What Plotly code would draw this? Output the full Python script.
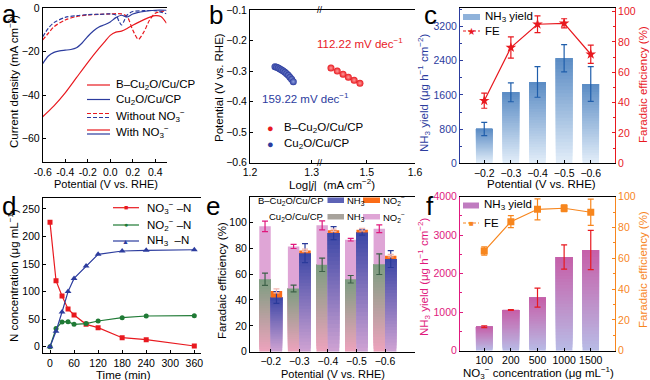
import plotly.graph_objects as go

W, H = 650, 380
FONT = "Arial, Liberation Sans, sans-serif"

def fx(p):
    return p / W

def fy(p):
    return 1 - p / H

RED = "#e8191f"
NAVY = "#2c3c9e"
GREEN = "#1f7a35"
MAGENTA = "#e0197d"
ORANGE = "#f7861e"
CBLUE = "#1f5eab"

# ---------------- data ----------------
# (a) LSV curves
a_pot_B_with = [-0.6, -0.5, -0.4, -0.3, -0.2, -0.1, -0.05, 0.0, 0.05, 0.1, 0.15, 0.2, 0.3, 0.4, 0.45, 0.5]
a_cd_B_with = [-50.0, -45.0, -39.0, -32.0, -25.0, -18.5, -15.5, -12.5, -11.0, -10.5, -9.3, -7.8, -5.2, -3.4, -3.8, -6.9]
a_pot_Cu_with = [-0.6, -0.55, -0.5, -0.45, -0.4, -0.35, -0.3, -0.25, -0.2, -0.15, -0.1, -0.05, 0.0, 0.05, 0.1, 0.15, 0.2, 0.3, 0.4, 0.5]
a_cd_Cu_with = [-25.5, -22.0, -20.3, -19.6, -19.3, -19.0, -18.2, -16.0, -13.0, -10.5, -8.6, -7.6, -6.3, -4.3, -3.2, -4.0, -2.6, -1.4, -0.9, -0.9]
a_pot_B_wo = [-0.6, -0.55, -0.5, -0.4, -0.3, -0.2, -0.1, 0.0, 0.1, 0.15, 0.2, 0.25, 0.3, 0.35, 0.4, 0.45, 0.5]
a_cd_B_wo = [-14.6, -11.5, -8.5, -5.4, -3.8, -3.1, -2.8, -2.6, -2.6, -3.8, -10.0, -14.3, -10.8, -5.4, -2.3, -1.5, -1.2]
a_pot_Cu_wo = [-0.6, -0.55, -0.5, -0.4, -0.3, -0.2, -0.1, 0.0, 0.05, 0.08, 0.1, 0.12, 0.15, 0.2, 0.3, 0.4, 0.5]
a_cd_Cu_wo = [-13.1, -9.2, -6.6, -4.2, -3.4, -2.9, -2.8, -2.6, -3.1, -6.2, -7.7, -6.2, -3.1, -1.5, -1.1, -1.1, -2.5]
a_xtick_vals = [-0.6, -0.4, -0.2, 0.0, 0.2, 0.4]
a_xtick_text = ["-0.6", "-0.4", "-0.2", "0.0", "0.2", "0.4"]

# (b) Tafel
b_logj_B = [1.426, 1.439, 1.451, 1.462, 1.474, 1.486]
b_pot_B = [-0.29, -0.30, -0.31, -0.32, -0.33, -0.34]
b_logj_Cu = [1.2405, 1.2432, 1.2459, 1.2486, 1.2513, 1.2540, 1.2567, 1.2594, 1.2621, 1.2648, 1.2675, 1.2702]
b_pot_Cu = [-0.2856, -0.2878, -0.2900, -0.2932, -0.2965, -0.2998, -0.3041, -0.3085, -0.3140, -0.3205, -0.3270, -0.3347]

# (c) yield & FE vs potential
c_labels = ["−0.2", "−0.3", "−0.4", "−0.5", "−0.6"]
c_yield = [803, 1663, 1904, 2460, 1858]
c_yield_err = [157, 222, 358, 320, 406]
c_fe = [41.3, 76.3, 91.7, 92.3, 71.9]
c_fe_err = [5.0, 7.0, 5.5, 3.0, 6.0]

# (d) time course
d_time = [0, 15, 30, 45, 60, 90, 120, 180, 240, 360]
d_no3 = [225.8, 119.8, 92.0, 68.4, 57.5, 40.6, 34.5, 16.3, 12.7, 1.2]
d_no2 = [0.0, 33.0, 45.0, 45.5, 40.6, 42.0, 46.6, 52.7, 55.7, 56.3]
d_nh3 = [0.0, 28.0, 63.0, 100.0, 124.0, 146.5, 167.7, 173.7, 175.0, 176.0]

# (e) FE comparison
e_labels = ["−0.2", "−0.3", "−0.4", "−0.5", "−0.6"]
e_cu_nh3 = [56.0, 48.8, 67.2, 56.0, 67.7]
e_cu_no2 = [40.9, 32.6, 30.5, 30.6, 27.3]
e_cu_nh3_err = [4.8, 2.6, 5.2, 2.9, 8.0]
e_cu_tot_err = [4.0, 1.6, 3.5, 1.0, 3.0]
e_b_nh3 = [41.9, 76.2, 91.7, 92.2, 71.6]
e_b_no2 = [5.1, 2.1, 2.1, 2.1, 2.6]
e_b_nh3_err = [4.5, 7.3, 5.0, 2.0, 6.5]
e_b_tot_err = [1.5, 1.0, 1.0, 1.0, 1.0]

# (f) yield & FE vs nitrate concentration
f_labels = ["100", "200", "500", "1000", "1500"]
f_yield = [623, 1057, 1377, 2434, 2616]
f_yield_err = [22, 10, 247, 315, 510]
f_fe = [64.7, 83.8, 91.8, 92.5, 89.9]
f_fe_err = [2.7, 3.9, 6.8, 2.2, 8.5]

# ---------------- helpers ----------------
def hexrgb(h):
    h = h.lstrip('#')
    return tuple(int(h[i:i + 2], 16) for i in (0, 2, 4))

def mix(c1, c2, t):
    a, b = hexrgb(c1), hexrgb(c2)
    return 'rgb(%d,%d,%d)' % tuple(round(a[i] + (b[i] - a[i]) * t) for i in range(3))

def gradient_bar(xs, lo, hi, xa, ya, c_bottom, c_top, width, offset, n=30):
    out = []
    for k in range(n):
        f = k / n
        base = [l + (h - l) * f for l, h in zip(lo, hi)]
        ht = [(h - l) * (1 - f) for l, h in zip(lo, hi)]
        out.append(go.Bar(x=xs, y=ht, base=base, width=width, offset=offset, xaxis=xa, yaxis=ya,
                          marker=dict(color=mix(c_bottom, c_top, (k + 0.5) / n), line=dict(width=0)),
                          showlegend=False, hoverinfo='skip'))
    return out

def solid_bar(xs, lo, hi, xa, ya, color, width, offset):
    return go.Bar(x=xs, y=[h - l for l, h in zip(lo, hi)], base=lo, width=width, offset=offset,
                  xaxis=xa, yaxis=ya, marker=dict(color=color, line=dict(width=0)),
                  showlegend=False, hoverinfo='skip')

def err_pts(xs, ys, errs, xa, ya, color, width=3):
    return go.Scatter(x=xs, y=ys, mode='markers', marker=dict(size=1, color='rgba(0,0,0,0)'),
                      error_y=dict(type='data', array=errs, color=color, thickness=1.2, width=width),
                      xaxis=xa, yaxis=ya, showlegend=False, hoverinfo='skip')

shapes = []
annotations = []

def text(x, y, s, size=11.5, color='black', xanchor='left', yanchor='middle', angle=0):
    annotations.append(dict(x=fx(x), y=fy(y), xref='paper', yref='paper', text=s, showarrow=False,
                            xanchor=xanchor, yanchor=yanchor, textangle=angle,
                            font=dict(family=FONT, size=size, color=color)))

def hline(x0, x1, y, color, dash='solid', w=1.2):
    shapes.append(dict(type='line', xref='paper', yref='paper', x0=fx(x0), x1=fx(x1), y0=fy(y), y1=fy(y),
                       line=dict(color=color, width=w, dash=dash)))

def box(x0, x1, y0, y1, color):
    shapes.append(dict(type='rect', xref='paper', yref='paper', x0=fx(x0), x1=fx(x1), y0=fy(y0), y1=fy(y1),
                       fillcolor=color, line=dict(width=0)))

TS = 11.5   # title size
TK = 10.5   # tick size

def ax(**kw):
    d = dict(showline=True, linecolor='black', linewidth=1, ticks='inside', ticklen=3, tickwidth=1,
             tickcolor='black', showgrid=False, zeroline=False, showticklabels=True,
             tickfont=dict(family=FONT, size=TK, color='black'), fixedrange=True, tickangle=0,
             automargin=False, ticklabeloverflow='allow')
    d.update(kw)
    return d

traces = []

# ---------- (a) ----------
for xs, ys, col, dash in [(a_pot_B_wo, a_cd_B_wo, RED, '4px,2px'), (a_pot_Cu_wo, a_cd_Cu_wo, NAVY, '4px,2px'),
                          (a_pot_Cu_with, a_cd_Cu_with, NAVY, 'solid'), (a_pot_B_with, a_cd_B_with, RED, 'solid')]:
    traces.append(go.Scatter(x=xs, y=ys, mode='lines', line=dict(color=col, width=1.2, dash=dash, shape='spline', smoothing=0.8),
                             xaxis='x', yaxis='y', showlegend=False, hoverinfo='skip'))

# ---------- (b) ----------
traces.append(go.Scatter(x=b_logj_Cu, y=b_pot_Cu, mode='markers', xaxis='x2', yaxis='y2',
                         marker=dict(size=7, color=NAVY, gradient=dict(type='radial', color='#8ea0e0')),
                         showlegend=False, hoverinfo='skip'))
traces.append(go.Scatter(x=b_logj_B, y=b_pot_B, mode='markers', xaxis='x3', yaxis='y2',
                         marker=dict(size=7, color=RED, gradient=dict(type='radial', color='#ff9a9a')),
                         showlegend=False, hoverinfo='skip'))

# ---------- (c) ----------
c_idx = list(range(len(c_labels)))
traces += gradient_bar(c_idx, [0] * len(c_idx), c_yield, 'x4', 'y3', '#e3eef9', '#5a8bc4', 0.62, -0.31)
traces.append(err_pts(c_idx, c_yield, c_yield_err, 'x4', 'y3', CBLUE))
traces.append(go.Scatter(x=c_idx, y=c_fe, mode='lines+markers', xaxis='x4', yaxis='y4',
                         line=dict(color=RED, width=1.2), marker=dict(symbol='star', size=8, color=RED),
                         error_y=dict(type='data', array=c_fe_err, color=RED, thickness=1.2, width=3),
                         showlegend=False, hoverinfo='skip'))

# ---------- (d) ----------
for ys, col, sym, sz in [(d_no3, RED, 'square', 5), (d_no2, GREEN, 'circle', 5), (d_nh3, NAVY, 'triangle-up', 6)]:
    traces.append(go.Scatter(x=d_time, y=ys, mode='lines+markers', xaxis='x5', yaxis='y5',
                             line=dict(color=col, width=1.2), marker=dict(symbol=sym, size=sz, color=col),
                             showlegend=False, hoverinfo='skip'))

# ---------- (e) ----------
e_idx = list(range(len(e_labels)))
zeros = [0] * len(e_idx)
e_cu_tot = [a + b for a, b in zip(e_cu_nh3, e_cu_no2)]
e_b_tot = [a + b for a, b in zip(e_b_nh3, e_b_no2)]
traces += gradient_bar(e_idx, zeros, e_cu_nh3, 'x6', 'y6', '#eea3bd', '#7c9d80', 0.40, -0.40)
traces.append(solid_bar(e_idx, e_cu_nh3, e_cu_tot, 'x6', 'y6', '#dfa5d6', 0.40, -0.40))
traces += gradient_bar(e_idx, zeros, e_b_nh3, 'x6', 'y6', '#cfa3d3', '#3b46a6', 0.40, 0.0)
traces.append(solid_bar(e_idx, e_b_nh3, e_b_tot, 'x6', 'y6', '#fb6c17', 0.40, 0.0))
e_x_cu = [i - 0.2 for i in e_idx]
e_x_b = [i + 0.2 for i in e_idx]
traces.append(err_pts(e_x_cu, e_cu_tot, e_cu_tot_err, 'x6', 'y6', MAGENTA, 3))
traces.append(err_pts(e_x_cu, e_cu_nh3, e_cu_nh3_err, 'x6', 'y6', '#3d6148', 3))
traces.append(err_pts(e_x_b, e_b_nh3, e_b_nh3_err, 'x6', 'y6', '#2a3a9a', 3))
traces.append(err_pts(e_x_b, e_b_tot, e_b_tot_err, 'x6', 'y6', '#f2b6b0', 3))

# ---------- (f) ----------
f_idx = list(range(len(f_labels)))
traces += gradient_bar(f_idx, [0] * len(f_idx), f_yield, 'x7', 'y7', '#b8bce6', '#c65ea8', 0.62, -0.31)
traces.append(err_pts(f_idx, f_yield, f_yield_err, 'x7', 'y7', RED))
traces.append(go.Scatter(x=f_idx, y=f_fe, mode='lines+markers', xaxis='x7', yaxis='y8',
                         line=dict(color=ORANGE, width=1.2), marker=dict(symbol='square', size=7, color=ORANGE),
                         error_y=dict(type='data', array=f_fe_err, color=ORANGE, thickness=1.2, width=3),
                         showlegend=False, hoverinfo='skip'))

# ---------------- legends & labels ----------------
# (a) legend
hline(87, 110, 85, RED)
text(114, 85, "B–Cu<sub>2</sub>O/Cu/CP")
hline(87, 110, 99.5, NAVY)
text(114, 99.5, "Cu<sub>2</sub>O/Cu/CP")
hline(87, 110, 113.5, RED, '4px,2px')
hline(87, 110, 117.5, NAVY, '4px,2px')
text(114, 115.5, "Without NO<sub>3</sub><sup>−</sup>")
hline(87, 110, 130, RED)
hline(87, 110, 134, NAVY)
text(114, 132, "With NO<sub>3</sub><sup>−</sup>")

# (b) legend and annotations
text(270, 128, "●", size=11, color=RED, xanchor='center')
text(282, 128, "B–Cu<sub>2</sub>O/Cu/CP")
text(270, 144, "●", size=11, color=NAVY, xanchor='center')
text(282, 144, "Cu<sub>2</sub>O/Cu/CP")
text(360, 43, "112.22 mV dec<sup>−1</sup>", color=RED, xanchor='center')
text(305, 98, "159.22 mV dec<sup>−1</sup>", color=NAVY, xanchor='center')
text(320, 10, "//", size=9, xanchor='center')
text(320, 162.7, "//", size=9, xanchor='center')

# (c) legend
box(463, 480, 14, 20, '#8fb2da')
text(483, 17, "NH<sub>3</sub> yield")
hline(463, 480, 31, RED, '3px,2px')
text(471.5, 31, "★", size=10, color=RED, xanchor='center')
text(483, 31, "FE")

# (d) legend
for y, col, sym, lab in [(207.7, RED, "■", "NO<sub>3</sub><sup>−</sup> –N"), (225, GREEN, "●", "NO<sub>2</sub><sup>−</sup> –N"),
                         (241, NAVY, "▲", "NH<sub>3</sub>  –N")]:
    hline(113, 139, y, col)
    text(126, y, sym, size=7, color=col, xanchor='center')
    text(145, y, lab)

# (e) legend
text(325, 200.5, "B–Cu<sub>2</sub>O/Cu/CP", size=9.5, xanchor='right')
box(327.5, 344, 197.5, 203, '#5d63b6')
text(345, 200.5, "NH<sub>3</sub>", size=9.5)
box(363, 380, 197.5, 203, '#fb6c17')
text(381, 200.5, "NO<sub>2</sub><sup>−</sup>", size=9.5)
text(325, 217, "Cu<sub>2</sub>O/Cu/CP", size=9.5, xanchor='right')
box(327.5, 344, 214, 219.5, '#a8a39c')
text(345, 217, "NH<sub>3</sub>", size=9.5)
box(363, 380, 214, 219.5, '#dfa5d6')
text(381, 217, "NO<sub>2</sub><sup>−</sup>", size=9.5)

# (f) legend
box(463, 479, 202.5, 208.5, '#c07cc0')
text(482, 205, "NH<sub>3</sub> yield")
hline(463, 479, 223, ORANGE, '3px,2px')
text(471, 223, "■", size=8, color=ORANGE, xanchor='center')
text(482, 223, "FE")

# axis titles
text(106, 184, "Potential (V vs. RHE)", size=11, xanchor='center')
text(13, 82, "Current density (mA cm<sup>−2</sup>)", size=TS, xanchor='center', angle=-90)
text(332, 184, "Log|<i>j</i>|  (mA cm<sup>−2</sup>)", size=TS, xanchor='center')
text(219, 88, "Potential (V vs. RHE)", size=TS, xanchor='center', angle=-90)
text(541.7, 184, "Potential (V vs. RHE)", size=TS, xanchor='center')
text(424, 92, "NH<sub>3</sub> yield (μg h<sup>−1</sup> cm<sup>−2</sup>)", size=TS, color=NAVY, xanchor='center', angle=-90)
text(643, 85, "Faradaic efficiency (%)", size=TS, color=RED, xanchor='center', angle=-90)
text(123, 374.5, "Time (min)", size=TS, xanchor='center')
text(13, 276, "N concentration (μg mL<sup>−1</sup>)", size=TS, xanchor='center', angle=-90)
text(333, 374, "Potential (V vs. RHE)", size=11, xanchor='center')
text(222, 280, "Faradaic efficiency (%)", size=TS, xanchor='center', angle=-90)
text(538, 372.5, "NO<sub>3</sub><sup>−</sup> concentration (μg mL<sup>−1</sup>)", size=TS, xanchor='center')
text(424, 276, "NH<sub>3</sub> yield (μg h<sup>−1</sup> cm<sup>−2</sup>)", size=TS, color=MAGENTA, xanchor='center', angle=-90)
text(643, 270, "Faradaic efficiency (%)", size=TS, color=ORANGE, xanchor='center', angle=-90)

# panel letters
for x, y, s in [(0, 14, "a"), (207, 15, "b"), (422, 15, "c"), (0, 206, "d"), (204, 206, "e"), (424, 206, "f")]:
    text(x, y, s, size=26)

# ---------------- layout ----------------
def frame_right(xa, ya, dom_y, rng):
    # right-side axis with no ticks: draws the right frame edge
    return ax(domain=dom_y, anchor=xa, overlaying=ya, side='right', range=rng, showticklabels=False, ticks='')

layout = dict(
    template='none',
    width=W, height=H, margin=dict(l=0, r=0, t=0, b=0, pad=0), paper_bgcolor='white', plot_bgcolor='white',
    showlegend=False, barmode='overlay', font=dict(family=FONT, size=11, color='black'),
    shapes=shapes, annotations=annotations,
    # (a)
    xaxis=ax(domain=[fx(42.7), fx(166.5)], anchor='y', range=[-0.6, 0.5], tickvals=a_xtick_vals,
             ticktext=a_xtick_text, mirror=True),
    yaxis=ax(domain=[fy(162.3), fy(8.3)], anchor='x', range=[-71, 0], tickvals=[0, -20, -40, -60]),
    yaxis10=frame_right('x', 'y', [fy(162.3), fy(8.3)], [-71, 0]),
    # (b)
    xaxis2=ax(domain=[fx(250), fx(320)], anchor='y2', range=[1.2, 1.3135], tickvals=[1.2, 1.3], tickformat='.1f', mirror=True),
    xaxis3=ax(domain=[fx(320), fx(415)], anchor='y2', range=[1.4033, 1.6], tickvals=[1.5, 1.6], tickformat='.1f', mirror=True),
    yaxis2=ax(domain=[fy(162.7), fy(10)], anchor='x2', range=[-0.6, -0.1], dtick=0.1, tickformat='.1f'),
    yaxis9=frame_right('x3', 'y2', [fy(162.7), fy(10)], [-0.6, -0.1]),
    # (c)
    xaxis4=ax(domain=[fx(460), fx(615)], anchor='y3', range=[-0.91, 4.91], tickvals=c_idx, ticktext=c_labels, mirror=True),
    yaxis3=ax(domain=[fy(163.3), fy(8.3)], anchor='x4', range=[0, 3629], tickvals=[0, 800, 1600, 2400, 3200],
              linecolor=NAVY, tickcolor=NAVY, tickfont=dict(family=FONT, size=TK, color=NAVY),
              minor=dict(ticks='inside', ticklen=2, tickcolor=NAVY, dtick=400)),
    yaxis4=ax(domain=[fy(163.3), fy(8.3)], anchor='x4', overlaying='y3', side='right', range=[0, 102.2], dtick=20,
              linecolor=RED, tickcolor=RED, tickfont=dict(family=FONT, size=TK, color=RED),
              minor=dict(ticks='inside', ticklen=2, tickcolor=RED, dtick=10)),
    # (d)
    xaxis5=ax(domain=[fx(43), fx(201)], anchor='y5', range=[-17.5, 376.7], dtick=60, mirror=True),
    yaxis5=ax(domain=[fy(353.3), fy(198.3)], anchor='x5', range=[-12, 269.4], dtick=50),
    yaxis11=frame_right('x5', 'y5', [fy(353.3), fy(198.3)], [-12, 269.4]),
    # (e)
    xaxis6=ax(domain=[fx(250), fx(415)], anchor='y6', range=[-0.726, 5.05], tickvals=e_idx, ticktext=e_labels, mirror=True),
    yaxis6=ax(domain=[fy(351.7), fy(197)], anchor='x6', range=[0, 119.6], tickvals=[0, 20, 40, 60, 80, 100]),
    yaxis12=frame_right('x6', 'y6', [fy(351.7), fy(197)], [0, 119.6]),
    # (f)
    xaxis7=ax(domain=[fx(460), fx(615)], anchor='y7', range=[-0.91, 4.91], tickvals=f_idx, ticktext=f_labels, mirror=True),
    yaxis7=ax(domain=[fy(350.7), fy(196.7)], anchor='x7', range=[0, 4000], dtick=1000,
              linecolor=MAGENTA, tickcolor=MAGENTA, tickfont=dict(family=FONT, size=TK, color=MAGENTA),
              minor=dict(ticks='inside', ticklen=2, tickcolor=MAGENTA, dtick=500)),
    yaxis8=ax(domain=[fy(350.7), fy(196.7)], anchor='x7', overlaying='y7', side='right', range=[0, 100], dtick=20,
              linecolor=ORANGE, tickcolor=ORANGE, tickfont=dict(family=FONT, size=TK, color=ORANGE),
              minor=dict(ticks='inside', ticklen=2, tickcolor=ORANGE, dtick=10)),
)

fig = go.Figure(data=traces, layout=layout)
fig.write_html("out.html", config={'displayModeBar': False},
               post_script="document.body.style.margin='0px';document.body.style.overflow='hidden';")
